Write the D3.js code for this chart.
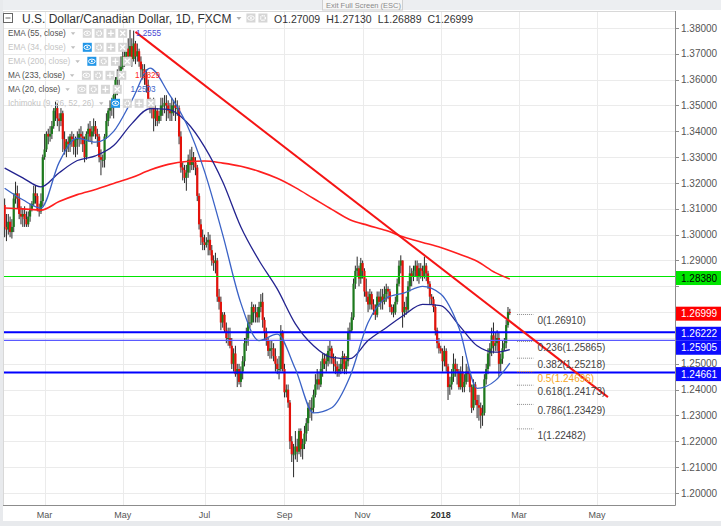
<!DOCTYPE html>
<html><head><meta charset="utf-8">
<script src="https://cdn.jsdelivr.net/npm/d3@7"></script>
<style>
body{margin:0;background:#fff;}
svg{display:block;font-family:"Liberation Sans",Arial,sans-serif;}
</style></head><body>
<svg id="c" width="721" height="526"></svg>
<script>
// ---------- DATA ----------
const startDate = "2017-01-30";           // first daily bar
const firstOpen = 13115;                  // pips (x1e-4)
const closes = [
13030,13020,13050,13010,13030,13140,13160,13140,13080,13070,
13080,13060,13040,13070,13100,13120,13160,13150,13100,13090,
13130,13300,13330,13390,13380,13390,13420,13480,13490,13450,
13440,13470,13370,13330,13360,13350,13380,13370,13340,13370,
13370,13390,13380,13350,13300,13390,13410,13380,13400,13420,
13390,13380,13300,13290,13290,13380,13440,13480,13490,13510,
13540,13600,13610,13630,13650,13690,13680,13720,13690,13730,
13680,13740,13690,13710,13670,13640,13640,13620,13580,13520,
13490,13500,13450,13480,13440,13460,13500,13500,13510,13500,
13480,13470,13500,13500,13490,13490,13380,13260,13250,13220,
13240,13290,13270,13300,13280,13260,13150,13040,12990,12970,
12960,12970,12980,12940,12900,12890,12900,12760,12740,12660,
12690,12630,12600,12600,12570,12500,12540,12460,12480,12430,
12470,12510,12580,12600,12660,12660,12720,12700,12700,12680,
12720,12740,12670,12620,12590,12550,12560,12560,12530,12500,
12480,12480,12620,12480,12390,12400,12350,12200,12150,12150,
12180,12160,12240,12170,12190,12230,12270,12330,12320,12330,
12380,12420,12440,12420,12480,12520,12500,12510,12550,12560,
12520,12500,12490,12470,12480,12500,12530,12480,12510,12620,
12630,12680,12810,12860,12870,12830,12890,12860,12780,12760,
12730,12770,12730,12710,12690,12760,12740,12760,12740,12770,
12790,12780,12720,12700,12700,12740,12810,12880,12900,12700,
12720,12710,12800,12850,12840,12860,12880,12840,12870,12860,
12840,12880,12850,12810,12760,12750,12720,12630,12580,12560,
12550,12510,12550,12490,12410,12420,12450,12500,12480,12470,
12410,12470,12410,12430,12470,12460,12410,12330,12420,12360,
12340,12330,12300,12310,12440,12480,12540,12560,12610,12570,
12580,12600,12500,12520,12560,12580,12650,12700.9,12699.9];
const highs = [
13140,13080,13080,13070,13060,13160,13205,13190,13160,13110,
13100,13110,13090,13090,13120,13130,13190,13190,13160,13120,
13160,13310,13390,13400,13410,13420,13440,13490,13515,13510,
13470,13490,13480,13400,13370,13380,13390,13400,13390,13380,
13400,13410,13420,13400,13380,13400,13430,13440,13420,13450,
13440,13410,13390,13330,13310,13390,13470,13490,13520,13530,
13560,13610,13640,13660,13690,13710,13720,13740,13760,13793,
13760,13790,13750,13740,13720,13690,13660,13660,13640,13600,
13530,13520,13530,13500,13490,13480,13530,13530,13540,13540,
13520,13510,13530,13520,13530,13520,13500,13400,13280,13270,
13270,13310,13330,13340,13320,13300,13270,13160,13060,13020,
13000,12990,13010,13000,12960,12920,12930,12910,12790,12760,
12700,12700,12660,12640,12640,12600,12560,12570,12500,12500,
12490,12530,12600,12640,12690,12690,12740,12730,12730,12720,
12740,12770,12775,12680,12640,12600,12590,12590,12580,12560,
12520,12530,12650,12630,12500,12420,12420,12360,12220,12190,
12240,12210,12250,12250,12210,12260,12290,12350,12360,12370,
12400,12460,12480,12470,12510,12540,12540,12540,12570,12590,
12570,12540,12530,12510,12500,12520,12550,12540,12530,12640,
12660,12700,12830,12880,12915,12880,12910,12900,12870,12830,
12780,12790,12780,12750,12730,12780,12780,12790,12790,12800,
12810,12800,12790,12730,12730,12760,12830,12900,12920,12900,
12740,12760,12820,12880,12870,12880,12900,12900,12890,12890,
12880,12915,12890,12860,12820,12770,12760,12730,12640,12600,
12570,12560,12570,12560,12500,12450,12480,12540,12520,12500,
12480,12490,12530,12460,12500,12490,12470,12420,12440,12430,
12380,12380,12350,12340,12460,12500,12560,12580,12640,12660,
12620,12630,12620,12540,12590,12600,12670,12720,12713];
const lows = [
12990,12975,13000,12990,12985,13010,13120,13100,13060,13040,
13030,13030,13030,13030,13050,13090,13110,13120,13090,13070,
13080,13110,13290,13320,13350,13360,13370,13410,13440,13420,
13400,13420,13320,13310,13300,13320,13320,13340,13310,13300,
13310,13340,13350,13320,13280,13290,13360,13360,13350,13380,
13370,13340,13280,13230,13260,13260,13370,13420,13450,13460,
13450,13520,13540,13570,13610,13640,13650,13660,13680,13660,
13650,13670,13660,13670,13650,13610,13600,13580,13550,13500,
13470,13450,13400,13420,13420,13430,13440,13460,13470,13440,
13450,13440,13440,13460,13440,13460,13350,13240,13210,13200,
13170,13220,13240,13250,13250,13230,13130,13020,12960,12940,
12940,12950,12920,12920,12880,12860,12850,12740,12710,12630,
12640,12620,12580,12570,12560,12480,12470,12450,12410,12420,
12410,12440,12490,12550,12570,12640,12650,12660,12660,12660,
12660,12700,12640,12590,12570,12530,12520,12520,12510,12470,
12460,12440,12470,12470,12370,12370,12330,12170,12120,12061,
12130,12120,12150,12140,12130,12170,12200,12240,12290,12280,
12310,12370,12400,12400,12410,12450,12480,12470,12490,12500,
12500,12470,12460,12450,12450,12460,12470,12460,12460,12490,
12590,12620,12670,12790,12840,12800,12810,12830,12760,12740,
12700,12710,12710,12690,12670,12680,12720,12710,12710,12730,
12740,12750,12700,12690,12680,12690,12730,12800,12850,12640,
12680,12690,12700,12780,12800,12820,12840,12820,12810,12830,
12820,12830,12820,12790,12730,12730,12700,12610,12560,12540,
12540,12470,12490,12470,12360,12380,12400,12430,12450,12420,
12400,12400,12390,12390,12420,12430,12390,12310,12320,12340,
12290,12280,12250,12260,12300,12420,12460,12490,12530,12540,
12550,12550,12450,12470,12500,12550,12560,12640,12688.9];

// indicator readings, sampled every 10 bars from the first bar, plus the last bar
const maSampleStep = 10;
const ma233 = [1.3103,1.3100,1.3095,1.3128,1.3155,1.3175,1.3198,1.3221,1.3250,1.3272,
  1.3283,1.3285,1.3277,1.3265,1.3245,1.3218,1.3182,1.3140,1.3098,1.3058,
  1.3036,1.3016,1.2990,1.2970,1.2950,1.2925,1.2897,1.2853,1.2828];
const ema55 = [1.3258,1.3220,1.3185,1.3240,1.3287,1.3305,1.3345,1.3430,1.3488,1.3485,
  1.3437,1.3340,1.3205,1.3030,1.2900,1.2790,1.2655,1.2570,1.2525,1.2520,
  1.2590,1.2640,1.2690,1.2730,1.2725,1.2650,1.2570,1.2545,1.2555];
const ma20 = [1.3180,1.3135,1.3103,1.3280,1.3374,1.3358,1.3400,1.3520,1.3645,1.3550,
  1.3430,1.3245,1.3000,1.2735,1.2590,1.2615,1.2480,1.2310,1.2330,1.2450,
  1.2660,1.2755,1.2775,1.2800,1.2770,1.2640,1.2405,1.2435,1.2503];

const priceTicks = [1.20,1.21,1.22,1.23,1.24,1.25,1.26,1.27,1.28,1.29,1.30,1.31,1.32,1.33,1.34,1.35,1.36,1.37,1.38];
const monthTickDates = ["2017-03-01","2017-05-01","2017-07-03","2017-09-01","2017-11-01","2018-01-01","2018-03-01","2018-05-01"];
const monthTickLabels = ["Mar","May","Jul","Sep","Nov","2018","Mar","May"];

const levelPrices = [1.28380, 1.26222, 1.25905, 1.24661];
const lastPrice = 1.26999;
const trendDates = ["2017-05-10","2018-05-09"];
const trendPrices = [1.3785, 1.2371];
const fibDates = ["2018-02-28","2018-03-13"];
const fibRatios = ["0","0.236","0.382","0.5","0.618","0.786","1"];
const fibPrices = [1.26910,1.25865,1.25218,1.24696,1.24173,1.23429,1.22482];

const titleText = "U.S. Dollar/Canadian Dollar, 1D, FXCM";
const ohlcLabels = ["O1.27009","H1.27130","L1.26889","C1.26999"];
const legendNames = ["EMA (55, close)","EMA (34, close)","EMA (200, close)","MA (233, close)","MA (20, close)","Ichimoku (9, 26, 52, 26)"];
const legendHidden = [false,true,true,false,false,true];
const legendValues = ["1.2555","","","1.2829","1.2503",""];

// ---------- CALENDAR ----------
const days = [];
for (let d = new Date(startDate + "T00:00:00Z"); d <= new Date("2018-06-01T00:00:00Z"); d.setUTCDate(d.getUTCDate() + 1)) {
  const w = d.getUTCDay();
  if (w > 0 && w < 6) days.push(d.toISOString().slice(0, 10));
}
const kOf = s => days.indexOf(s);

// ---------- SCALES ----------
const L = 3, R = 675, T = 11, B = 505;
const x = d3.scaleLinear().domain([-0.9, 368.9]).range([L, R]);
const y = d3.scaleLinear().domain([1.20, 1.38]).range([493, 28]);

const svg = d3.select("#c");
svg.append("rect").attr("width", 721).attr("height", 526).attr("fill", "#fff");
svg.append("rect").attr("x", 0).attr("y", 0).attr("width", 721).attr("height", 10).attr("fill", "#eceef1");
svg.append("rect").attr("x", 0).attr("y", 521).attr("width", 721).attr("height", 5).attr("fill", "#e8eaed");
svg.append("rect").attr("x", 0).attr("y", 0).attr("width", 3).attr("height", 526).attr("fill", "#e8eaed");

const defs = svg.append("defs");
defs.append("clipPath").attr("id", "plot").append("rect")
  .attr("x", L).attr("y", T).attr("width", R - L).attr("height", B - T);

// grid
const grid = svg.append("g").attr("clip-path", "url(#plot)");
grid.selectAll("line.h").data(priceTicks).join("line")
  .attr("x1", L).attr("x2", R).attr("y1", d => Math.round(y(d)) + 0.5).attr("y2", d => Math.round(y(d)) + 0.5)
  .attr("stroke", "#ebebeb");
grid.selectAll("line.v").data(monthTickDates).join("line")
  .attr("y1", T).attr("y2", B).attr("x1", d => Math.round(x(kOf(d))) + 0.5).attr("x2", d => Math.round(x(kOf(d))) + 0.5)
  .attr("stroke", "#ebebeb");

const plot = svg.append("g").attr("clip-path", "url(#plot)");

// candles
const bars = closes.map((c, i) => {
  const o = i === 0 ? firstOpen : closes[i - 1];
  return { k: i, o: o / 1e4, c: c / 1e4, h: Math.max(highs[i], o, c) / 1e4, l: Math.min(lows[i], o, c) / 1e4 };
});
const cg = plot.append("g");
cg.selectAll("line").data(bars).join("line")
  .attr("x1", d => x(d.k)).attr("x2", d => x(d.k))
  .attr("y1", d => y(d.h)).attr("y2", d => y(d.l))
  .attr("stroke", "#111").attr("stroke-width", 0.9);
cg.selectAll("rect").data(bars).join("rect")
  .attr("x", d => x(d.k) - 1.1).attr("width", 2.2)
  .attr("y", d => y(Math.max(d.o, d.c)))
  .attr("height", d => Math.max(1, Math.abs(y(d.o) - y(d.c))))
  .attr("fill", d => d.c >= d.o ? "#1d7a1d" : "#e3120b");

// horizontal level lines
const levelColors = ["#00e600", "#0000ff", "#5a5aff", "#0000ff"];
const levelWidths = [1.2, 2, 1.2, 2];
plot.selectAll("line.lvl").data(levelPrices).join("line")
  .attr("x1", L).attr("x2", R).attr("y1", d => y(d)).attr("y2", d => y(d))
  .attr("stroke", (d, i) => levelColors[i]).attr("stroke-width", (d, i) => levelWidths[i]);

// moving averages
const sampleK = i => Math.min(i * maSampleStep, closes.length - 1);
const maLine = d3.line().x((d, i) => x(sampleK(i))).y(d => y(d)).curve(d3.curveMonotoneX);
plot.append("path").attr("d", maLine(ma233)).attr("fill", "none").attr("stroke", "#ff1f1f").attr("stroke-width", 1.6);
plot.append("path").attr("d", maLine(ema55)).attr("fill", "none").attr("stroke", "#23238f").attr("stroke-width", 1.3);
plot.append("path").attr("d", maLine(ma20)).attr("fill", "none").attr("stroke", "#3a62c6").attr("stroke-width", 1.3);

// trend line
plot.append("line")
  .attr("x1", x(kOf(trendDates[0]))).attr("y1", y(trendPrices[0]))
  .attr("x2", x(kOf(trendDates[1]))).attr("y2", y(trendPrices[1]))
  .attr("stroke", "#f51414").attr("stroke-width", 2);

// fibonacci
const fx1 = x(kOf(fibDates[0])), fx2 = x(kOf(fibDates[1]));
fibPrices.forEach((p, i) => {
  const col = fibRatios[i] === "0.5" ? "#f5a623" : "#8a8a8a";
  plot.append("line").attr("x1", fx1).attr("x2", fx2).attr("y1", y(p)).attr("y2", y(p))
    .attr("stroke", col).attr("stroke-dasharray", "1,1");
  plot.append("text").attr("x", fx2 + 4).attr("y", y(p) + 10)
    .attr("font-size", 10).attr("fill", fibRatios[i] === "0.5" ? "#f5a623" : "#444")
    .text(fibRatios[i] + "(" + p.toFixed(5) + ")");
});

// frame / axes
svg.append("line").attr("x1", L).attr("x2", R).attr("y1", T + 0.5).attr("y2", T + 0.5).attr("stroke", "#d8d8d8");
svg.append("line").attr("x1", L + 0.5).attr("x2", L + 0.5).attr("y1", T).attr("y2", B).attr("stroke", "#d8d8d8");
svg.append("line").attr("x1", R + 0.5).attr("x2", R + 0.5).attr("y1", T).attr("y2", B + 0.5).attr("stroke", "#8c8c8c");
svg.append("line").attr("x1", L).attr("x2", R + 0.5).attr("y1", B + 0.5).attr("y2", B + 0.5).attr("stroke", "#8c8c8c");

// price label boxes layout (pushed apart so they don't overlap)
const boxes = [
  { v: levelPrices[0], bg: "#00e600", fg: "#000" },
  { v: lastPrice, bg: "#ff0000", fg: "#fff" },
  { v: levelPrices[1], bg: "#0c0cff", fg: "#fff" },
  { v: levelPrices[2], bg: "#0c0cff", fg: "#fff" },
  { v: levelPrices[3], bg: "#0c0cff", fg: "#fff" }
].map(b => ({ ...b, yy: y(b.v) + 1.5 })).sort((a, b) => a.yy - b.yy);
for (let i = 1; i < boxes.length; i++) if (boxes[i].yy < boxes[i - 1].yy + 14) boxes[i].yy = boxes[i - 1].yy + 14;

// right axis (labels hidden where a price box covers them)
const visTicks = priceTicks.filter(t => boxes.every(b => Math.abs(y(t) - b.yy) >= 9));
const ax = svg.append("g");
ax.selectAll("line").data(priceTicks).join("line")
  .attr("x1", R).attr("x2", R + 4).attr("y1", d => Math.round(y(d)) + 0.5).attr("y2", d => Math.round(y(d)) + 0.5)
  .attr("stroke", "#8c8c8c");
ax.selectAll("text").data(visTicks).join("text")
  .attr("x", 681).attr("y", d => y(d) + 3.5).attr("font-size", 10).attr("fill", "#555")
  .text(d => d.toFixed(5));

boxes.forEach(b => {
  svg.append("rect").attr("x", R + 1).attr("y", b.yy - 7).attr("width", 721 - R - 1).attr("height", 14).attr("fill", b.bg);
  svg.append("text").attr("x", 681).attr("y", b.yy + 3.6).attr("font-size", 10).attr("fill", b.fg).text(b.v.toFixed(5));
});

// time axis
const tx = svg.append("g");
tx.selectAll("text").data(monthTickDates).join("text")
  .attr("x", d => x(kOf(d))).attr("y", 518).attr("text-anchor", "middle")
  .attr("font-size", 9)
  .attr("font-weight", (d, i) => monthTickLabels[i] === "2018" ? "bold" : "normal")
  .attr("fill", (d, i) => monthTickLabels[i] === "2018" ? "#333" : "#555")
  .text((d, i) => monthTickLabels[i]);

// ---------- HEADER ----------
svg.append("rect").attr("x", 322.5).attr("y", -1).attr("width", 80).attr("height", 11).attr("fill", "#f6f6f6").attr("stroke", "#cfcfcf");
svg.append("text").attr("x", 326).attr("y", 8).attr("font-size", 7.5).attr("fill", "#8a8a8a").text("Exit Full Screen (ESC)");

svg.append("rect").attr("x", 3.5).attr("y", 13.5).attr("width", 9).attr("height", 9).attr("fill", "#fff").attr("stroke", "#666");
svg.append("line").attr("x1", 5.5).attr("x2", 10.5).attr("y1", 18).attr("y2", 18).attr("stroke", "#666");
const title = svg.append("text").attr("x", 22).attr("y", 23).attr("font-size", 12).attr("fill", "#333").text(titleText);
const tEnd = 22 + title.node().getComputedTextLength();
svg.append("path").attr("d", `M${tEnd + 5},17 l5,0 l-2.5,3 z`).attr("fill", "#b0b0b0");

function icon(g, x0, yc, kind, blue) {
  g.append("rect").attr("x", x0).attr("y", yc - 4.5).attr("width", 9).attr("height", 9)
    .attr("fill", blue ? "#2196e8" : "#d6d6d6");
  const cx = x0 + 4.5;
  if (kind === "eye") {
    g.append("ellipse").attr("cx", cx).attr("cy", yc).attr("rx", 3.3).attr("ry", 2.2).attr("fill", "none").attr("stroke", "#fff").attr("stroke-width", 1);
    g.append("circle").attr("cx", cx).attr("cy", yc).attr("r", 1).attr("fill", "#fff");
  } else if (kind === "gear") {
    g.append("circle").attr("cx", cx).attr("cy", yc).attr("r", 2.4).attr("fill", "none").attr("stroke", "#fff").attr("stroke-width", 1.4).attr("stroke-dasharray", "1.2,0.6");
  } else if (kind === "plus") {
    g.append("path").attr("d", `M${cx - 3},${yc} h6 M${cx},${yc - 3} v6`).attr("stroke", "#fff").attr("stroke-width", 1.3);
  } else {
    g.append("path").attr("d", `M${cx - 2.5},${yc - 2.5} l5,5 M${cx + 2.5},${yc - 2.5} l-5,5`).attr("stroke", "#fff").attr("stroke-width", 1.3);
  }
}
const hg = svg.append("g");
icon(hg, tEnd + 15, 18, "eye", false);
icon(hg, tEnd + 27, 18, "gear", false);

let ox = 274;
ohlcLabels.forEach(s => {
  const t = svg.append("text").attr("x", ox).attr("y", 23).attr("font-size", 10.5).attr("fill", "#333").text(s);
  ox += t.node().getComputedTextLength() + 6;
});

// indicator legend
const lg = svg.append("g");
legendNames.forEach((n, i) => {
  const yc = 33.3 + i * 14;
  const t = lg.append("text").attr("x", 8).attr("y", yc + 3).attr("font-size", 8.2)
    .attr("fill", legendHidden[i] ? "#c4c4c4" : "#505050").text(n);
  const e = 8 + t.node().getComputedTextLength();
  lg.append("path").attr("d", `M${e + 5},${yc - 1} l4.5,0 l-2.25,2.6 z`).attr("fill", "#c0c0c0");
  const ix = e + 17;
  ["eye", "gear", "plus", "x"].forEach((k, j) => icon(lg, ix + j * 11.8, yc, k, legendHidden[i] && j === 0));
  if (legendValues[i]) {
    const col = i === 3 ? "#ff2a1a" : (i === 0 ? "#4a4ad2" : "#3e64c8");
    lg.append("text").attr("x", ix + 4 * 11.8 + 6).attr("y", yc + 3).attr("font-size", 8.2).attr("fill", col).text(legendValues[i]);
  }
});
</script>
</body></html>
